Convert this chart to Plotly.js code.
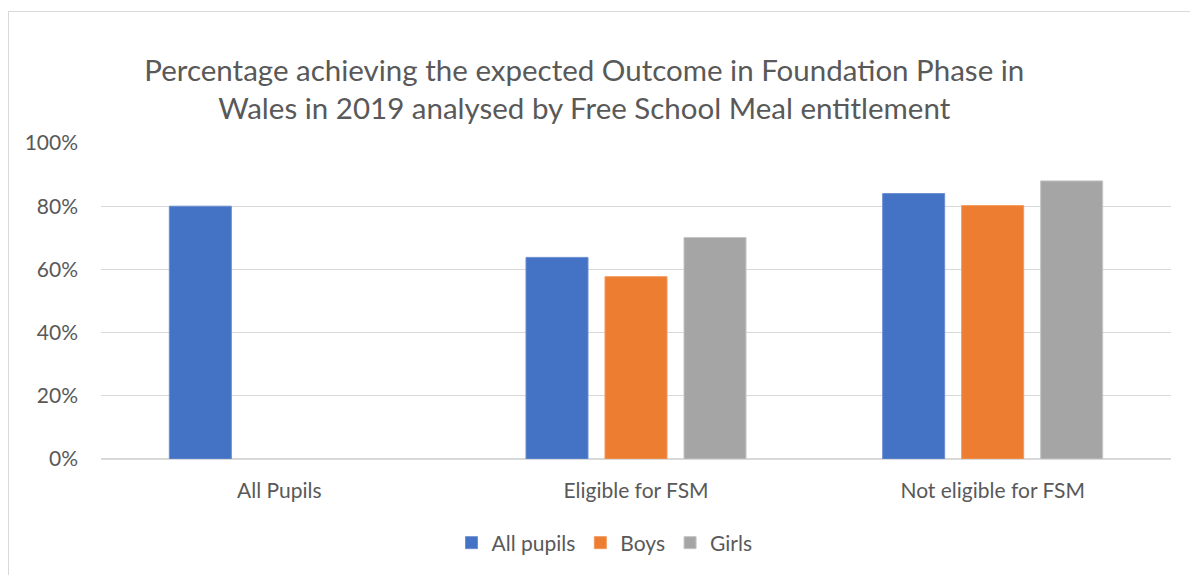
<!DOCTYPE html>
<html>
<head>
<meta charset="utf-8">
<script src="https://cdn.plot.ly/plotly-3.0.1.min.js"></script>
<style>
  html, body { margin: 0; padding: 0; background: #ffffff; }
  #wrap { position: relative; width: 1190px; height: 575px; overflow: hidden; }
  #frame { position: absolute; left: 8px; top: 11px; width: 1200px; height: 600px;
           border-left: 1px solid #d9d9d9; border-top: 1px solid #d9d9d9; box-sizing: border-box; }
  #chart { position: absolute; left: 0; top: 0; width: 1190px; height: 575px; }
</style>
</head>
<body>
<div id="wrap">
  <div id="frame"></div>
  <div id="chart"></div>
</div>
<script>
// Data
const categories = ["All Pupils", "Eligible for FSM", "Not eligible for FSM"];
const seriesNames = ["All pupils", "Boys", "Girls"];
const allPupils = [80.0, 63.8, 84.0];
const boys = [null, 57.7, 80.2];
const girls = [null, 70.1, 88.0];
const yTicks = [0, 20, 40, 60, 80, 100];
const yTickLabels = ["0%", "20%", "40%", "60%", "80%", "100%"];
const titleText = "Percentage achieving the expected Outcome in Foundation Phase in<br>Wales in 2019 analysed by Free School Meal entitlement";

const colors = ["#4472C4", "#ED7D31", "#A5A5A5"];
const lineColors = ["#6d8fd0", "#f29a5e", "#c4c4c4"];
const seriesValues = [allPupils, boys, girls];

const traces = seriesValues.map((vals, i) => ({
  type: "bar",
  name: seriesNames[i],
  x: categories,
  y: vals,
  marker: { color: colors[i], line: { color: lineColors[i], width: 1 } },
  hoverinfo: "skip"
}));

const fontFamily = "Lato, 'Open Sans', sans-serif";
const textColor = "#595959";

const layout = {
  width: 1190,
  height: 575,
  paper_bgcolor: "rgba(0,0,0,0)",
  plot_bgcolor: "rgba(0,0,0,0)",
  margin: { l: 101, r: 19, t: 143, b: 116 },
  font: { family: fontFamily, color: textColor, size: 21 },
  title: {
    text: titleText,
    font: { family: fontFamily, color: textColor, size: 29.5 },
    xref: "container", x: 0.491, xanchor: "center",
    yref: "container", y: 1 - 88/575 + 0.013, yanchor: "middle"
  },
  barmode: "group",
  bargap: 0.3355,
  bargroupgap: 0.215,
  xaxis: {
    type: "category",
    showgrid: false,
    showline: false,
    zeroline: false,
    ticks: "",
    ticklabelstandoff: 17,
    tickfont: { family: fontFamily, color: textColor, size: 21 }
  },
  yaxis: {
    range: [0, 100],
    tickmode: "array",
    tickvals: yTicks,
    ticktext: yTickLabels,
    showgrid: true,
    gridcolor: "#d9d9d9",
    gridwidth: 1.3,
    zeroline: true,
    zerolinecolor: "#d9d9d9",
    zerolinewidth: 1.3,
    showline: false,
    ticks: "",
    ticklabelstandoff: 22,
    tickfont: { family: fontFamily, color: textColor, size: 21 },
    fixedrange: true
  },
  showlegend: true,
  legend: {
    orientation: "h",
    xref: "container", x: 0.508, xanchor: "center",
    yref: "container", y: 1 - 543/575, yanchor: "middle",
    font: { family: fontFamily, color: textColor, size: 21 },
    itemclick: false, itemdoubleclick: false,
    traceorder: "normal"
  }
};

Plotly.newPlot("chart", traces, layout, { displayModeBar: false, staticPlot: true });
</script>
</body>
</html>
